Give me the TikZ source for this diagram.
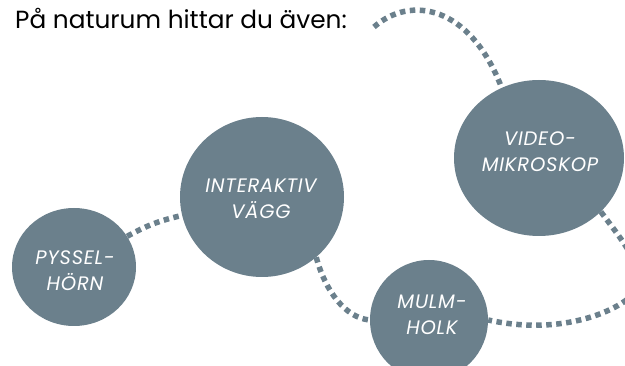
\documentclass[tikz,border=0pt]{standalone}
\usepackage{fontspec}
\setmainfont{Poppins}
\newfontfamily\lblfont[LetterSpace=4]{Poppins}
\usetikzlibrary{shapes.geometric,backgrounds}
\definecolor{slate}{HTML}{6B808C}
\tikzset{
  blob/.style={ellipse, fill=slate, draw=none, inner sep=0pt},
  lbl/.style={inner sep=0pt, text=white, align=center,
    font=\lblfont\itshape\fontsize{19.5}{26}\selectfont},
  dots/.style={draw=slate, line width=5.5pt, dash pattern=on 5.5pt off 4.5pt},
}
\begin{document}
\begin{tikzpicture}[x=1pt,y=-1pt]
\useasboundingbox (0,0) rectangle (625,366);
\clip (0,0) rectangle (625,366);
\node[anchor=base west, inner sep=0pt, font=\fontsize{24.8}{30}\selectfont] (head) at (15,29) {På naturum hittar du även:};
\coordinate (hend) at (374,27);
\node[blob, minimum width=124pt, minimum height=118pt] (pys) at (74,267) {};
\node[blob, minimum width=164pt, minimum height=160pt] (int) at (262,197) {};
\node[blob, minimum width=118pt, minimum height=120pt] (mul) at (429,320) {};
\node[blob, minimum width=170pt, minimum height=156pt] (vid) at (539,158) {};
\node[lbl] (pyst) at (75,271) {PYSSEL-\\HÖRN};
\node[lbl] (intt) at (261,199) {INTERAKTIV\\VÄGG};
\node[lbl] (mult) at (432,315) {MULM-\\HOLK};
\node[lbl] (vidt) at (540,152) {VIDEO-\\MIKROSKOP};
\coordinate (off) at (640,285);
\begin{pgfonlayer}{background}
\draw[dots] (hend) .. controls (410,-5) and (470,5) .. (vid.118);
\draw[dots] (pys.30) to[bend left=8] (int.193);
\draw[dots] (int.-48) .. controls (325,290) and (345,318) .. (mul.180);
\draw[dots] (vid.-41) .. controls (622,240) and (640,262) .. (off);
\draw[dots] (off) .. controls (632,305) and (570,338) .. (mul.0);
\end{pgfonlayer}
\end{tikzpicture}
\end{document}
